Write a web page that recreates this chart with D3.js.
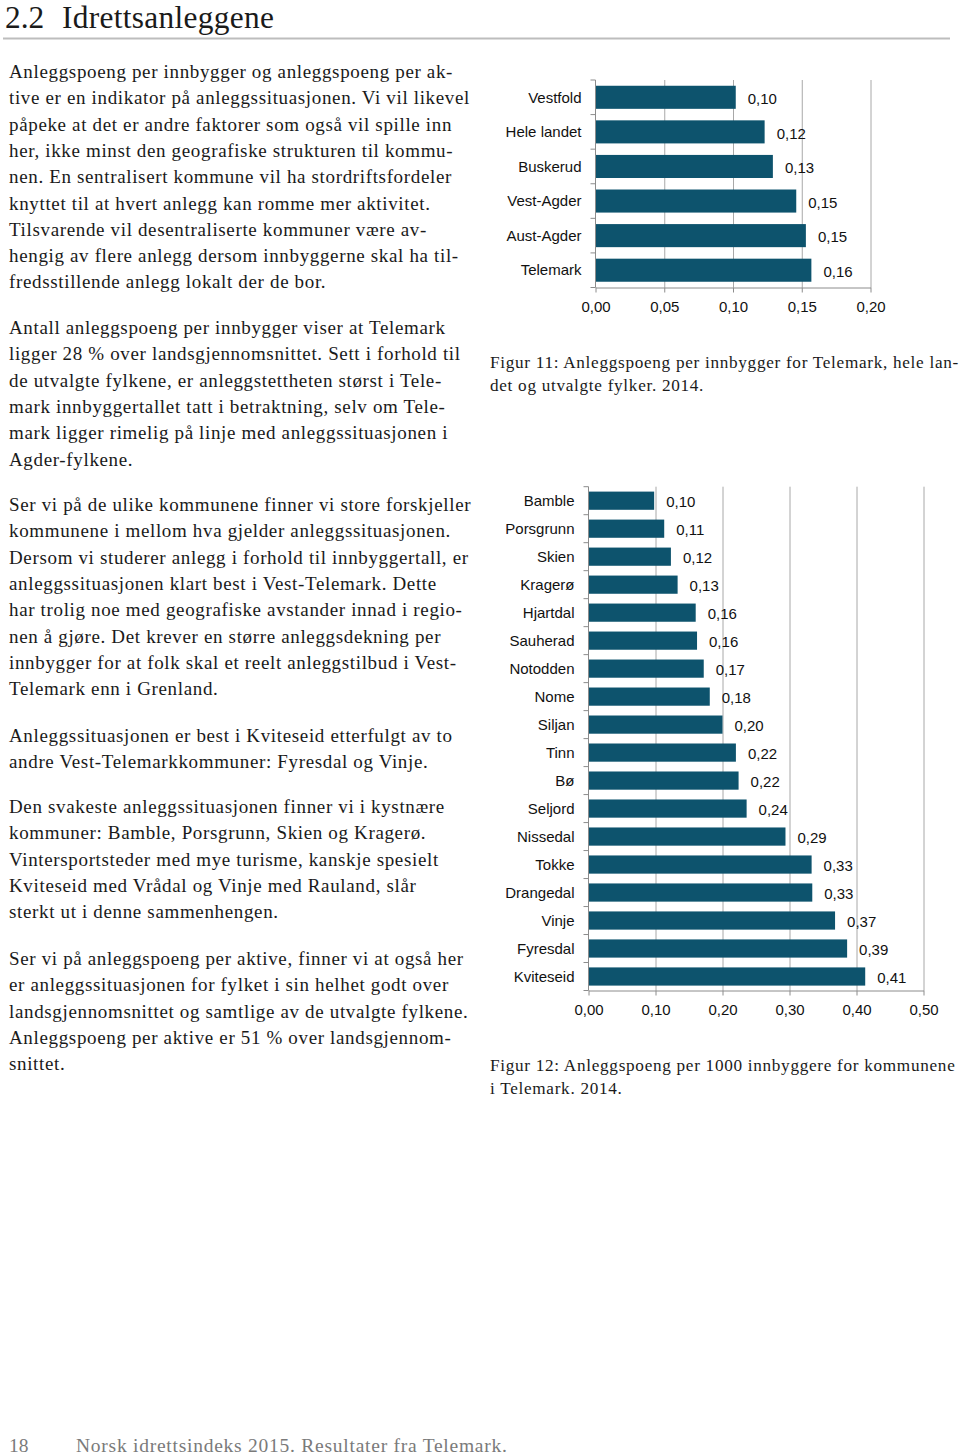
<!DOCTYPE html>
<html>
<head>
<meta charset="utf-8">
<script src="https://cdn.jsdelivr.net/npm/d3@7"></script>
<style>
  html, body { margin: 0; padding: 0; background: #fff; }
  svg { display: block; }
  .body-text { font-family: "Liberation Serif", "Times New Roman", serif; font-size: 19px; letter-spacing: 0.65px; fill: #1a1a1a; }
  .caption { font-family: "Liberation Serif", "Times New Roman", serif; font-size: 17.2px; letter-spacing: 0.7px; fill: #1a1a1a; }
  .chart text { font-family: "Liberation Sans", Arial, sans-serif; font-size: 15px; fill: #111; }
</style>
</head>
<body>
<svg id="page" width="960" height="1455"></svg>
<script>
// ---------- DATA ----------
const fylker = ["Vestfold", "Hele landet", "Buskerud", "Vest-Agder", "Aust-Agder", "Telemark"];
const fylkeValues = [0.102, 0.123, 0.129, 0.146, 0.153, 0.157];
const fylkeTicks = [0, 0.05, 0.10, 0.15, 0.20];

const kommuner = ["Bamble", "Porsgrunn", "Skien", "Kragerø", "Hjartdal", "Sauherad", "Notodden", "Nome",
  "Siljan", "Tinn", "Bø", "Seljord", "Nissedal", "Tokke", "Drangedal", "Vinje", "Fyresdal", "Kviteseid"];
const kommuneValues = [0.098, 0.113, 0.123, 0.133, 0.160, 0.162, 0.172, 0.181,
  0.200, 0.220, 0.224, 0.236, 0.294, 0.333, 0.334, 0.368, 0.386, 0.413];
const kommuneTicks = [0, 0.10, 0.20, 0.30, 0.40, 0.50];

const heading = ["2.2", "Idrettsanleggene"];
const paragraphs = [
  ["Anleggspoeng per innbygger og anleggspoeng per ak-",
   "tive er en indikator på anleggssituasjonen. Vi vil likevel",
   "påpeke at det er andre faktorer som også vil spille inn",
   "her, ikke minst den geografiske strukturen til kommu-",
   "nen. En sentralisert kommune vil ha stordriftsfordeler",
   "knyttet til at hvert anlegg kan romme mer aktivitet.",
   "Tilsvarende vil desentraliserte kommuner være av-",
   "hengig av flere anlegg dersom innbyggerne skal ha til-",
   "fredsstillende anlegg lokalt der de bor."],
  ["Antall anleggspoeng per innbygger viser at Telemark",
   "ligger 28 % over landsgjennomsnittet. Sett i forhold til",
   "de utvalgte fylkene, er anleggstettheten størst i Tele-",
   "mark innbyggertallet tatt i betraktning, selv om Tele-",
   "mark ligger rimelig på linje med anleggssituasjonen i",
   "Agder-fylkene."],
  ["Ser vi på de ulike kommunene finner vi store forskjeller",
   "kommunene i mellom hva gjelder anleggssituasjonen.",
   "Dersom vi studerer anlegg i forhold til innbyggertall, er",
   "anleggssituasjonen klart best i Vest-Telemark. Dette",
   "har trolig noe med geografiske avstander innad i regio-",
   "nen å gjøre. Det krever en større anleggsdekning per",
   "innbygger for at folk skal et reelt anleggstilbud i Vest-",
   "Telemark enn i Grenland."],
  ["Anleggssituasjonen er best i Kviteseid etterfulgt av to",
   "andre Vest-Telemarkkommuner: Fyresdal og Vinje."],
  ["Den svakeste anleggssituasjonen finner vi i kystnære",
   "kommuner: Bamble, Porsgrunn, Skien og Kragerø.",
   "Vintersportsteder med mye turisme, kanskje spesielt",
   "Kviteseid med Vrådal og Vinje med Rauland, slår",
   "sterkt ut i denne sammenhengen."],
  ["Ser vi på anleggspoeng per aktive, finner vi at også her",
   "er anleggssituasjonen for fylket i sin helhet godt over",
   "landsgjennomsnittet og samtlige av de utvalgte fylkene.",
   "Anleggspoeng per aktive er 51 % over landsgjennom-",
   "snittet."]
];
const caption11 = ["Figur 11: Anleggspoeng per innbygger for Telemark, hele lan-",
                   "det og utvalgte fylker. 2014."];
const caption12 = ["Figur 12: Anleggspoeng per 1000 innbyggere for kommunene",
                   "i Telemark. 2014."];
const footer = ["18", "Norsk idrettsindeks 2015. Resultater fra Telemark."];

// ---------- LAYOUT ----------
const svg = d3.select("#page");
svg.append("rect").attr("width", 960).attr("height", 1455).attr("fill", "#fff");

const nb = d3.formatLocale({decimal: ",", thousands: " ", grouping: [3], currency: ["", " kr"]});
const fmt = nb.format(".2f");
const barColor = "#0d536d";

// heading
svg.append("text").attr("x", 5).attr("y", 28)
  .style("font-family", '"Liberation Serif", serif').style("font-size", "31.4px").attr("fill", "#1a1a1a")
  .text(heading[0]);
svg.append("text").attr("x", 62).attr("y", 28)
  .style("font-family", '"Liberation Serif", serif').style("font-size", "31.4px")
  .style("letter-spacing", "0.3px").attr("fill", "#1a1a1a")
  .text(heading[1]);
svg.append("line").attr("x1", 3).attr("x2", 950).attr("y1", 38.5).attr("y2", 38.5)
  .attr("stroke", "#bdbdbd").attr("stroke-width", 2);

// body text
const paraStarts = [78, 334, 511, 742, 813, 965];
const lineH = 26.3;
paragraphs.forEach((p, pi) => {
  svg.append("g").selectAll("text").data(p).join("text")
    .attr("class", "body-text")
    .attr("x", 9)
    .attr("y", (d, i) => paraStarts[pi] + i * lineH)
    .text(d => d);
});

// captions
function caption(lines, y0) {
  svg.append("g").selectAll("text").data(lines).join("text")
    .attr("class", "caption").attr("x", 490)
    .attr("y", (d, i) => y0 + i * 23.2).text(d => d);
}
caption(caption11, 367.5);
caption(caption12, 1070.5);

// footer
svg.append("text").attr("x", 9).attr("y", 1452)
  .style("font-family", '"Liberation Serif", serif').style("font-size", "19.5px").attr("fill", "#7a7a7a")
  .text(footer[0]);
svg.append("text").attr("x", 76).attr("y", 1452)
  .style("font-family", '"Liberation Serif", serif').style("font-size", "19.5px")
  .style("letter-spacing", "0.75px").attr("fill", "#7a7a7a")
  .text(footer[1]);

// ---------- CHARTS ----------
function barChart(opts) {
  const {cats, vals, ticks, x0, x1, y0, y1, pad} = opts;
  const g = svg.append("g").attr("class", "chart");
  const x = d3.scaleLinear().domain([ticks[0], ticks[ticks.length - 1]]).range([x0, x1]);
  const y = d3.scaleBand().domain(cats).range([y0, y1]).paddingInner(pad).paddingOuter(pad / 2);
  const data = cats.map((c, i) => ({c, v: vals[i]}));

  // gridlines
  g.append("g").attr("transform", `translate(0,${y1})`)
    .call(d3.axisBottom(x).tickValues(ticks.slice(1)).tickSize(-(y1 - y0)).tickFormat(""))
    .call(s => s.select(".domain").remove())
    .call(s => s.selectAll("line").attr("stroke", "#a8a8a8").attr("stroke-width", 1));

  // bars
  g.append("g").selectAll("rect").data(data).join("rect")
    .attr("x", x(0)).attr("y", d => y(d.c))
    .attr("width", d => x(d.v) - x(0)).attr("height", y.bandwidth())
    .attr("fill", barColor);

  // value labels
  g.append("g").selectAll("text").data(data).join("text")
    .attr("x", d => x(d.v) + 12).attr("y", d => y(d.c) + y.bandwidth() / 2 + 1.5)
    .attr("dy", "0.35em").text(d => fmt(d.v));

  // x axis
  g.append("g").attr("transform", `translate(0,${y1})`)
    .call(d3.axisBottom(x).tickValues(ticks).tickSize(5).tickSizeOuter(0).tickPadding(8.5).tickFormat(fmt))
    .call(s => s.select(".domain").attr("stroke", "#8c8c8c"))
    .call(s => s.selectAll("line").attr("stroke", "#8c8c8c"))
    .call(s => s.selectAll("text").style("font-family", '"Liberation Sans", Arial, sans-serif')
      .style("font-size", "15px").attr("fill", "#111"));

  // y axis line + boundary ticks
  const step = y.step();
  const bounds = cats.map(c => y(c) - step * pad / 2).concat([y1]);
  g.append("line").attr("x1", x(0)).attr("x2", x(0)).attr("y1", y0).attr("y2", y1)
    .attr("stroke", "#8c8c8c");
  g.append("g").selectAll("line").data(bounds).join("line")
    .attr("x1", x(0) - 5).attr("x2", x(0)).attr("y1", d => d).attr("y2", d => d)
    .attr("stroke", "#8c8c8c");

  // category labels
  g.append("g").selectAll("text").data(cats).join("text")
    .attr("x", x(0) - 14).attr("y", d => y(d) + y.bandwidth() / 2)
    .attr("dy", "0.35em").attr("text-anchor", "end").text(d => d);
}

barChart({cats: fylker, vals: fylkeValues, ticks: fylkeTicks,
  x0: 595.5, x1: 870.5, y0: 80, y1: 287.5, pad: 0.333});
barChart({cats: kommuner, vals: kommuneValues, ticks: kommuneTicks,
  x0: 588.5, x1: 923.5, y0: 486.7, y1: 990.5, pad: 0.35});
</script>
</body>
</html>
